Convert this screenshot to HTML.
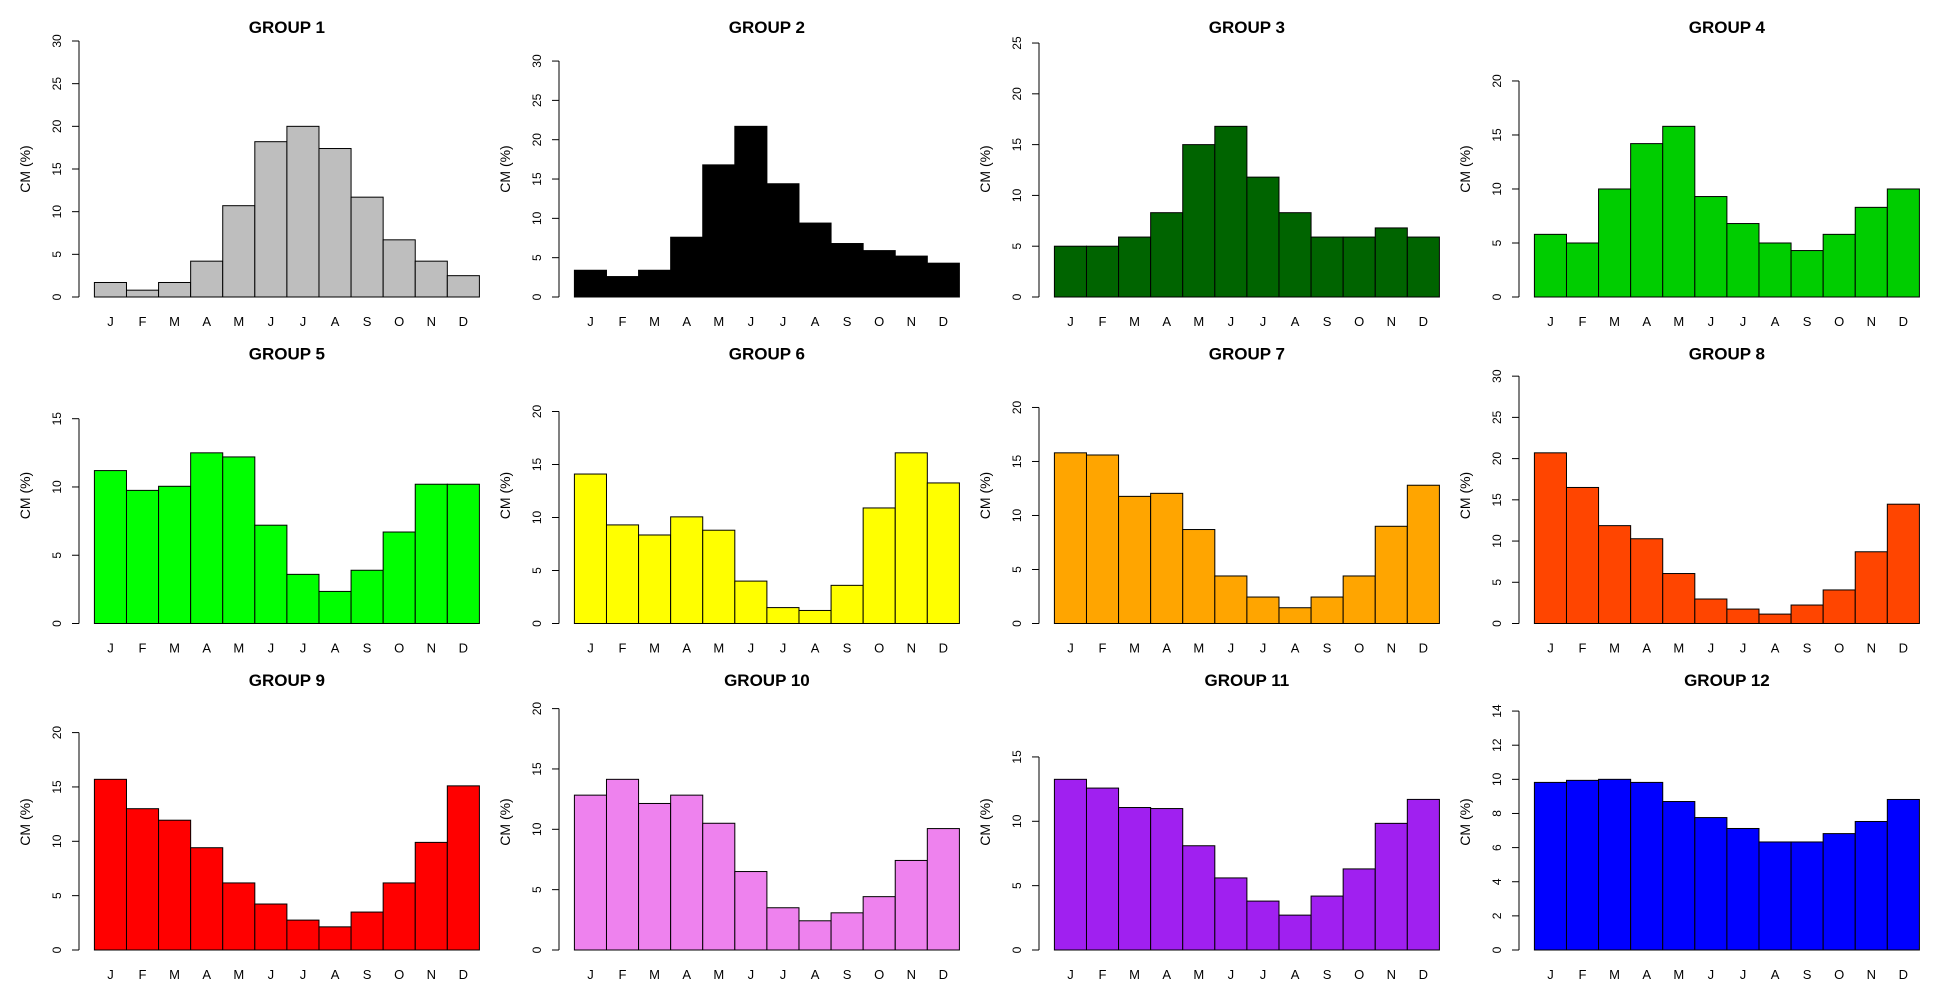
<!DOCTYPE html>
<html><head><meta charset="utf-8"><style>
html,body{margin:0;padding:0;background:#fff;}
svg{display:block;font-family:"Liberation Sans",Arial,sans-serif;}
</style></head><body>
<svg id="chart" width="1937" height="998" viewBox="0 0 1937 998" xmlns="http://www.w3.org/2000/svg"></svg>
<script>
const months = ["J","F","M","A","M","J","J","A","S","O","N","D"];
const groupNames = ["GROUP  1","GROUP  2","GROUP  3","GROUP  4","GROUP  5","GROUP  6","GROUP  7","GROUP  8","GROUP  9","GROUP  10","GROUP  11","GROUP  12"];
const g1 = [1.7,0.8,1.7,4.2,10.7,18.2,20.0,17.4,11.7,6.7,4.2,2.5];
const g2 = [3.4,2.6,3.4,7.6,16.8,21.7,14.4,9.4,6.8,5.9,5.2,4.3];
const g3 = [5.0,5.0,5.9,8.3,15.0,16.8,11.8,8.3,5.9,5.9,6.8,5.9];
const g4 = [5.8,5.0,10.0,14.2,15.8,9.3,6.8,5.0,4.3,5.8,8.3,10.0];
const g5 = [11.2,9.75,10.05,12.5,12.2,7.2,3.6,2.35,3.9,6.7,10.2,10.2];
const g6 = [14.1,9.3,8.35,10.06,8.8,4.0,1.5,1.23,3.6,10.9,16.1,13.26];
const g7 = [15.8,15.6,11.77,12.05,8.7,4.4,2.45,1.46,2.45,4.4,9.0,12.8];
const g8 = [20.7,16.5,11.87,10.28,6.06,2.97,1.75,1.14,2.24,4.07,8.7,14.47];
const g9 = [15.7,13.0,11.94,9.41,6.17,4.23,2.75,2.13,3.49,6.17,9.9,15.1];
const g10 = [12.83,14.14,12.14,12.83,10.5,6.5,3.5,2.42,3.08,4.42,7.42,10.06];
const g11 = [13.26,12.58,11.07,10.99,8.1,5.6,3.8,2.71,4.19,6.3,9.84,11.7];
const g12 = [9.82,9.94,10.0,9.82,8.7,7.76,7.12,6.33,6.33,6.82,7.53,8.82];
const seriesValues = [g1,g2,g3,g4,g5,g6,g7,g8,g9,g10,g11,g12];
const fillColors = ["#bebebe","#000000","#006400","#00cd00","#00ff00","#ffff00","#ffa500","#ff4500","#ff0000","#ee82ee","#a020f0","#0000ff"];
const tickSteps = [5,5,5,5,5,5,5,5,5,5,5,2];

const NS = "http://www.w3.org/2000/svg";
const svg = document.getElementById("chart");
function mk(tag, attrs, parent){
  const e = document.createElementNS(NS, tag);
  for (const k in attrs) e.setAttribute(k, attrs[k]);
  (parent||svg).appendChild(e);
  return e;
}
const PW = 415.8, PH = 256;
seriesValues.forEach((vals, i) => {
  const col = i % 4, row = Math.floor(i / 4);
  const left = 79 + 480 * col;
  const top = 41 + 326.5 * row;
  const bottom = top + PH;
  const ymax = 1.5 * Math.max(...vals);
  const yScale = v => bottom - v / ymax * PH;
  const n = months.length;
  const xScale = k => left + PW * (0.04 * n + k) / (n * 1.08);

  const g = mk("g", {});
  
  

  const t = mk("text", {x: left + PW / 2, y: top - 8, "text-anchor": "middle", "font-size": "17", "font-weight": "bold", fill: "#000"}, g);
  t.textContent = groupNames[i];
  
  

  const yl = mk("text", {x: 0, y: 0, transform: `translate(${left - 49},${top + PH / 2}) rotate(-90)`, "text-anchor": "middle", "font-size": "14", fill: "#000"}, g);
  yl.textContent = "CM (%)";
  
  

  vals.forEach((v, k) => {
    const x0 = xScale(k), x1 = xScale(k + 1), y = yScale(v);
    const r = mk("rect", {x: x0, y: y, width: x1 - x0, height: bottom - y, fill: fillColors[i], stroke: "#000", "stroke-width": "1"}, g);
    
    
    const ml = mk("text", {x: (x0 + x1) / 2, y: bottom + 29, "text-anchor": "middle", "font-size": "13", fill: "#000"}, g);
    ml.textContent = months[k];
    
    
  });

  const step = tickSteps[i];
  const topTick = Math.floor(ymax / step) * step;
  const axis = mk("line", {x1: left, x2: left, y1: yScale(0), y2: yScale(topTick), stroke: "#000", "stroke-width": "1"}, g);
  
  
  for (let v = 0; v <= topTick + 1e-9; v += step) {
    const yy = yScale(v);
    const tk = mk("line", {x1: left - 7, x2: left, y1: yy, y2: yy, stroke: "#000", "stroke-width": "1"}, g);
    
    
    const tl = mk("text", {x: 0, y: 0, transform: `translate(${left - 18},${yy}) rotate(-90)`, "text-anchor": "middle", "font-size": "12", fill: "#000"}, g);
    tl.textContent = String(v);
    
    
  }
});
</script>
</body></html>
